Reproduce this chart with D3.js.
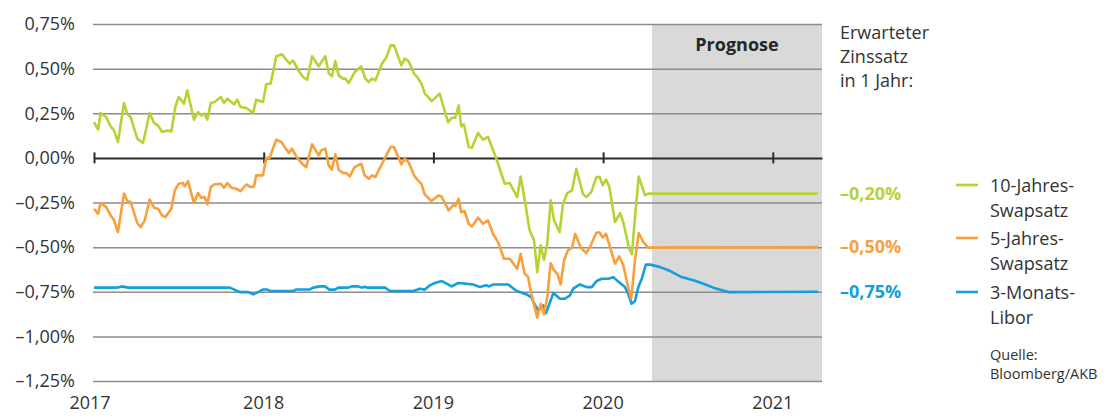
<!DOCTYPE html>
<html>
<head>
<meta charset="utf-8">
<script src="https://cdn.jsdelivr.net/npm/d3@7"></script>
<style>
  body { margin: 0; background: #fff; }
  svg text { font-family: "Open Sans", "Noto Sans", sans-serif; fill: #333; }
</style>
</head>
<body>
<div id="chart"></div>
<script>
// time is given in years since 1 Jan 2017, values in percent
var startYear = 2017;
var endTime = 4.29;        // mid April 2021
var forecastStart = 3.288; // mid April 2020

var yearTicks = [0, 1, 2, 3, 4];
var yTicks = [0.75, 0.5, 0.25, 0, -0.25, -0.5, -0.75, -1.0, -1.25];

var swap10 = [
  [0.000, 0.20], [0.024, 0.158], [0.039, 0.251], [0.072, 0.229], [0.098, 0.176], [0.118, 0.154],
  [0.141, 0.089], [0.177, 0.307], [0.196, 0.244], [0.216, 0.229], [0.255, 0.108], [0.289, 0.083],
  [0.328, 0.251], [0.354, 0.195], [0.377, 0.182], [0.401, 0.145], [0.436, 0.154], [0.456, 0.148],
  [0.479, 0.285], [0.499, 0.341], [0.530, 0.304], [0.550, 0.378], [0.589, 0.214], [0.613, 0.257],
  [0.632, 0.238], [0.652, 0.248], [0.668, 0.214], [0.688, 0.307], [0.711, 0.313], [0.747, 0.341],
  [0.766, 0.307], [0.786, 0.332], [0.825, 0.300], [0.844, 0.326], [0.864, 0.285], [0.897, 0.279],
  [0.937, 0.251], [0.956, 0.326], [0.996, 0.313], [1.015, 0.412], [1.041, 0.416], [1.074, 0.569],
  [1.108, 0.580], [1.133, 0.550], [1.153, 0.528], [1.173, 0.546], [1.202, 0.494], [1.232, 0.453],
  [1.257, 0.438], [1.285, 0.569], [1.324, 0.513], [1.363, 0.569], [1.383, 0.475], [1.402, 0.457],
  [1.422, 0.542], [1.442, 0.462], [1.467, 0.444], [1.481, 0.444], [1.501, 0.419], [1.536, 0.481],
  [1.575, 0.513], [1.599, 0.444], [1.619, 0.425], [1.638, 0.444], [1.658, 0.434], [1.697, 0.528],
  [1.722, 0.561], [1.748, 0.630], [1.768, 0.630], [1.811, 0.518], [1.831, 0.556], [1.854, 0.542],
  [1.886, 0.472], [1.905, 0.453], [1.929, 0.416], [1.952, 0.356], [1.970, 0.341], [1.990, 0.318],
  [2.037, 0.360], [2.086, 0.200], [2.110, 0.225], [2.129, 0.225], [2.149, 0.294], [2.164, 0.176],
  [2.180, 0.188], [2.208, 0.061], [2.227, 0.057], [2.263, 0.139], [2.292, 0.102], [2.322, 0.117],
  [2.371, -0.005], [2.420, -0.145], [2.450, -0.141], [2.494, -0.22], [2.514, -0.104], [2.542, -0.257],
  [2.567, -0.406], [2.593, -0.462], [2.612, -0.64], [2.632, -0.49], [2.652, -0.57], [2.671, -0.48],
  [2.691, -0.238], [2.711, -0.35], [2.744, -0.416], [2.764, -0.257], [2.789, -0.197], [2.817, -0.182],
  [2.842, -0.061], [2.882, -0.204], [2.901, -0.22], [2.931, -0.19], [2.960, -0.108], [2.980, -0.108],
  [2.998, -0.154], [3.017, -0.122], [3.037, -0.164], [3.070, -0.36], [3.100, -0.309], [3.119, -0.36],
  [3.154, -0.509], [3.170, -0.54], [3.188, -0.33], [3.210, -0.104], [3.247, -0.21], [3.266, -0.20],
  [4.266, -0.20]
];

var swap5 = [
  [0.000, -0.285], [0.024, -0.313], [0.039, -0.253], [0.072, -0.276], [0.098, -0.322], [0.118, -0.35],
  [0.141, -0.416], [0.177, -0.20], [0.196, -0.242], [0.216, -0.247], [0.255, -0.365], [0.275, -0.388],
  [0.299, -0.35], [0.328, -0.234], [0.354, -0.279], [0.377, -0.285], [0.401, -0.322], [0.420, -0.332],
  [0.456, -0.285], [0.476, -0.182], [0.499, -0.145], [0.524, -0.141], [0.534, -0.16], [0.554, -0.13],
  [0.589, -0.253], [0.613, -0.197], [0.632, -0.223], [0.652, -0.22], [0.668, -0.26], [0.688, -0.164],
  [0.707, -0.149], [0.747, -0.145], [0.766, -0.167], [0.786, -0.141], [0.809, -0.167], [0.839, -0.173],
  [0.864, -0.186], [0.897, -0.149], [0.923, -0.164], [0.943, -0.16], [0.956, -0.098], [0.996, -0.098],
  [1.015, 0.001], [1.035, 0.001], [1.074, 0.102], [1.104, 0.089], [1.124, 0.061], [1.149, 0.027],
  [1.167, 0.052], [1.192, 0.008], [1.222, -0.029], [1.251, -0.052], [1.285, 0.076], [1.324, 0.014],
  [1.339, 0.042], [1.363, 0.052], [1.383, -0.042], [1.402, -0.066], [1.422, 0.02], [1.442, -0.066],
  [1.467, -0.085], [1.487, -0.085], [1.507, -0.104], [1.536, -0.052], [1.575, -0.033], [1.595, -0.098],
  [1.619, -0.117], [1.638, -0.098], [1.658, -0.107], [1.697, -0.033], [1.722, 0.014], [1.748, 0.061],
  [1.768, 0.061], [1.811, -0.036], [1.831, -0.005], [1.854, -0.024], [1.886, -0.098], [1.905, -0.122],
  [1.929, -0.145], [1.949, -0.204], [1.988, -0.242], [2.031, -0.21], [2.047, -0.216], [2.090, -0.294],
  [2.116, -0.266], [2.129, -0.27], [2.149, -0.229], [2.164, -0.304], [2.184, -0.298], [2.208, -0.369],
  [2.227, -0.384], [2.263, -0.335], [2.292, -0.369], [2.322, -0.35], [2.351, -0.425], [2.381, -0.472],
  [2.416, -0.565], [2.450, -0.565], [2.494, -0.621], [2.514, -0.537], [2.538, -0.649], [2.557, -0.664],
  [2.577, -0.761], [2.597, -0.836], [2.612, -0.895], [2.632, -0.817], [2.652, -0.877], [2.671, -0.78],
  [2.691, -0.589], [2.711, -0.63], [2.730, -0.649], [2.750, -0.709], [2.770, -0.574], [2.793, -0.518],
  [2.817, -0.503], [2.836, -0.425], [2.868, -0.503], [2.901, -0.533], [2.927, -0.49], [2.961, -0.418],
  [2.979, -0.418], [2.998, -0.446], [3.017, -0.425], [3.041, -0.5], [3.070, -0.593], [3.095, -0.552],
  [3.119, -0.602], [3.143, -0.705], [3.166, -0.789], [3.188, -0.574], [3.210, -0.421], [3.237, -0.472],
  [3.266, -0.503], [4.266, -0.50]
];

var libor3m = [
  [0.000, -0.727], [0.134, -0.727], [0.163, -0.72], [0.202, -0.727], [0.801, -0.727], [0.860, -0.752],
  [0.909, -0.752], [0.939, -0.765], [0.998, -0.737], [1.018, -0.737], [1.037, -0.746], [1.174, -0.746],
  [1.194, -0.737], [1.273, -0.737], [1.292, -0.727], [1.332, -0.72], [1.361, -0.72], [1.387, -0.738],
  [1.420, -0.738], [1.440, -0.727], [1.499, -0.727], [1.519, -0.72], [1.557, -0.72], [1.577, -0.727],
  [1.597, -0.722], [1.607, -0.727], [1.715, -0.727], [1.744, -0.746], [1.882, -0.746], [1.921, -0.733],
  [1.950, -0.738], [1.980, -0.714], [2.009, -0.701], [2.049, -0.69], [2.078, -0.705], [2.108, -0.72],
  [2.147, -0.701], [2.196, -0.705], [2.235, -0.709], [2.275, -0.724], [2.310, -0.714], [2.329, -0.72],
  [2.353, -0.709], [2.441, -0.709], [2.491, -0.746], [2.550, -0.765], [2.579, -0.783], [2.599, -0.826],
  [2.618, -0.854], [2.648, -0.826], [2.664, -0.87], [2.707, -0.757], [2.746, -0.789], [2.775, -0.789],
  [2.805, -0.77], [2.824, -0.733], [2.864, -0.709], [2.903, -0.724], [2.933, -0.724], [2.962, -0.69],
  [2.992, -0.677], [3.031, -0.677], [3.060, -0.668], [3.080, -0.685], [3.129, -0.724], [3.148, -0.761],
  [3.168, -0.817], [3.188, -0.802], [3.208, -0.724], [3.228, -0.677], [3.252, -0.598], [3.278, -0.598],
  [3.337, -0.612], [3.396, -0.634], [3.463, -0.668], [3.532, -0.686], [3.592, -0.705], [3.649, -0.727],
  [3.738, -0.752], [4.266, -0.75]
];

var seriesNames = [["10-Jahres-", "Swapsatz"], ["5-Jahres-", "Swapsatz"], ["3-Monats-", "Libor"]];
var seriesColors = ["#b5d334", "#f9a03c", "#139fdb"];
var forecastLabels = ["\u20130,20%", "\u20130,50%", "\u20130,75%"];
var forecastValues = [-0.20, -0.50, -0.75];
var headerLines = ["Erwarteter", "Zinssatz", "in 1 Jahr:"];
var sourceLines = ["Quelle:", "Bloomberg/AKB"];

var width = 1109, height = 417;
var margin = {top: 24, right: 287, bottom: 36, left: 94};

var svg = d3.select("#chart").append("svg")
.attr("width", width)
.attr("height", height);

var x = d3.scaleLinear()
.domain([0, endTime])
.range([margin.left, width - margin.right]);

var y = d3.scaleLinear()
.domain([-1.25, 0.75])
.range([height - margin.bottom, margin.top]);

var fmt = function(v) {
  var s = d3.format(".2f")(Math.abs(v)).replace(".", ",") + "%";
  return v < 0 ? "\u2013" + s : s;
};

// grey forecast band
svg.append("rect")
.attr("x", x(forecastStart))
.attr("y", y(0.75))
.attr("width", x(endTime) - x(forecastStart))
.attr("height", y(-1.25) - y(0.75))
.style("fill", "#d9d9d9");

svg.append("text")
.attr("x", (x(forecastStart) + x(endTime)) / 2)
.attr("y", 51)
.attr("text-anchor", "middle")
.style("font-size", "18px")
.style("font-weight", "700")
.style("fill", "#262626")
.text("Prognose");

// horizontal grid lines and y labels
var yAxis = d3.axisLeft(y)
.tickValues(yTicks)
.tickSize(-(x(endTime) - x(0) + 1))
.tickPadding(18)
.tickFormat(fmt);

var gy = svg.append("g")
.attr("transform", "translate(" + (margin.left - 1) + ",0)")
.call(yAxis);

gy.select(".domain").remove();
gy.selectAll(".tick line")
.style("stroke", function(d) { return d === 0 ? "none" : "#8c8c8c"; })
.style("stroke-width", 1.5);
gy.selectAll(".tick text")
.style("font-size", "18px")
.style("fill", "#333");

// zero line with year ticks
var xAxis = d3.axisBottom(x)
.tickValues(yearTicks)
.tickSize(0)
.tickFormat("");

var g0 = svg.append("g")
.attr("transform", "translate(0," + y(0) + ")")
.call(xAxis);

g0.select(".domain")
.style("stroke", "#2b2b2b")
.style("stroke-width", 2);

g0.selectAll(".tick line")
.attr("y1", -5.5)
.attr("y2", 5.5)
.style("stroke", "#2b2b2b")
.style("stroke-width", 2);

// year labels
svg.append("g")
.selectAll("text")
.data(yearTicks)
.enter().append("text")
.attr("x", function(d) { return x(d) - 4 * (d === 0); })
.attr("y", 409)
.attr("text-anchor", "middle")
.style("font-size", "18px")
.text(function(d) { return startYear + d; });

// the three lines
var line = d3.line()
.x(function(d) { return x(d[0]); })
.y(function(d) { return y(d[1]); });

svg.append("g")
.selectAll("path")
.data([libor3m, swap5, swap10])
.enter().append("path")
.attr("d", line)
.style("fill", "none")
.style("stroke", function(d, i) { return seriesColors[2 - i]; })
.style("stroke-width", 2.6)
.style("stroke-linejoin", "round");

// expected rates on the right
svg.append("g")
.selectAll("text")
.data(headerLines)
.enter().append("text")
.attr("x", 840)
.attr("y", function(d, i) { return 39 + i * 24; })
.style("font-size", "18px")
.text(function(d) { return d; });

svg.append("g")
.selectAll("text")
.data(forecastValues)
.enter().append("text")
.attr("x", 840)
.attr("y", function(d) { return y(d) + 6; })
.style("font-size", "18px")
.style("font-weight", "700")
.style("fill", function(d, i) { return seriesColors[i]; })
.text(function(d, i) { return forecastLabels[i]; });

// legend
var legendY = [185, 238, 292];

var entries = svg.append("g")
.selectAll("g")
.data(seriesNames)
.enter().append("g")
.attr("transform", function(d, i) { return "translate(956," + legendY[i] + ")"; });

entries.append("line")
.attr("x1", 0)
.attr("x2", 22)
.style("stroke", function(d, i) { return seriesColors[i]; })
.style("stroke-width", 2.6);

entries.selectAll("text")
.data(function(d) { return d; })
.enter().append("text")
.attr("x", 34)
.attr("y", function(d, i) { return 7 + i * 25; })
.style("font-size", "18px")
.text(function(d) { return d; });

svg.append("g")
.selectAll("text")
.data(sourceLines)
.enter().append("text")
.attr("x", 990)
.attr("y", function(d, i) { return 360 + i * 19; })
.style("font-size", "14.5px")
.text(function(d) { return d; });
</script>
</body>
</html>
